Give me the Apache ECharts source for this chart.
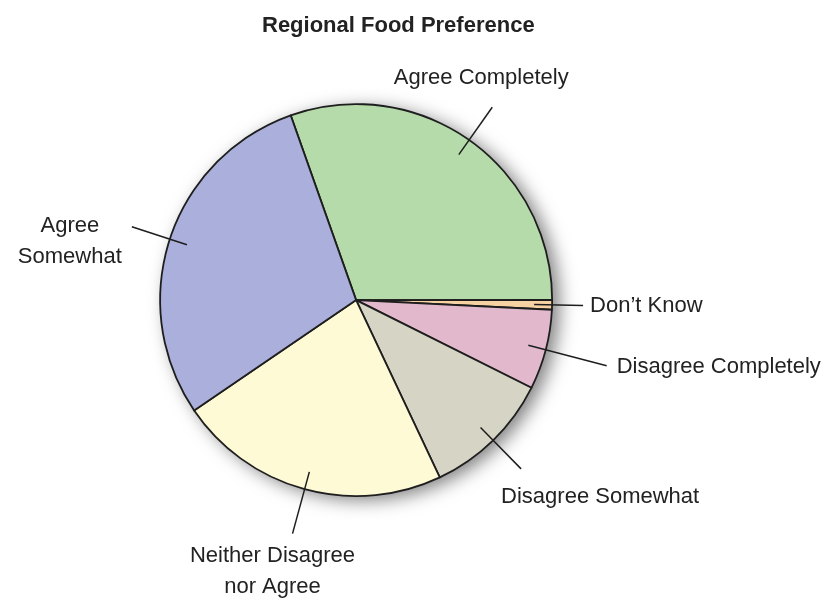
<!DOCTYPE html>
<html>
<head>
<meta charset="utf-8">
<script src="https://cdn.jsdelivr.net/npm/echarts@6/dist/echarts.min.js"></script>
<style>
html,body{margin:0;padding:0;background:#ffffff;}
#chart{width:836px;height:599px;}
</style>
</head>
<body>
<div id="chart"></div>
<script>
// ---- data ----
const chartTitle = 'Regional Food Preference';
const categories = ['Agree Completely', 'Don\u2019t Know', 'Disagree Completely', 'Disagree Somewhat', 'Neither Disagree\nnor Agree', 'Agree\nSomewhat'];
const values = [30.4, 0.8, 6.6, 10.6, 22.5, 29.1];

// ---- styles ----
const sliceColors = ['#b5dbaa', '#f7d3a3', '#e2b9cc', '#d6d4c4', '#fefad6', '#aab0db'];
const lineLengths = [58, 49, 81, 58, 64, 58];
const labelAdjust = [
  {align: 'center', verticalAlign: 'middle', dx: -11, dy: -29},
  {align: 'left',   verticalAlign: 'middle', dx: 7,   dy: 0},
  {align: 'left',   verticalAlign: 'middle', dx: 10,  dy: 1},
  {align: 'left',   verticalAlign: 'middle', dx: -20, dy: 28},
  {align: 'center', verticalAlign: 'middle', dx: -20, dy: 38},
  {align: 'center', verticalAlign: 'middle', dx: -62, dy: 15}
];

function fontAvailable(name) {
  const c = document.createElement('canvas').getContext('2d');
  const t = 'Disagree Completely Wmw';
  c.font = '40px monospace';
  const w1 = c.measureText(t).width;
  c.font = '40px "' + name + '", monospace';
  return Math.abs(c.measureText(t).width - w1) > 0.5;
}
const narrow = fontAvailable('Liberation Sans Narrow');
const labelFont = narrow ? '"Liberation Sans Narrow"' : '"Liberation Sans", Arial, sans-serif';
const labelSize = narrow ? 26 : 22;

const total = values.reduce((a, b) => a + b, 0);
const center = ['42.6%', '50.1%'];
const startAngle = 109.5;

const chart = echarts.init(document.getElementById('chart'), null, {renderer: 'canvas'});
chart.setOption({
  animation: false,
  backgroundColor: '#ffffff',
  title: {
    text: chartTitle,
    left: 257,
    top: 10,
    textStyle: {fontFamily: '"Liberation Sans", Arial, sans-serif', fontWeight: 'bold', fontSize: 22, color: '#222'}
  },
  series: [
    {
      name: 'shadow',
      type: 'pie',
      silent: true,
      z: 1,
      center: center,
      radius: 196,
      startAngle: startAngle,
      label: {show: false},
      labelLine: {show: false},
      itemStyle: {color: '#bbbbbb', shadowBlur: 18, shadowColor: 'rgba(0,0,0,0.5)', shadowOffsetX: 7, shadowOffsetY: 4},
      data: [{value: total, name: 'all'}]
    },
    {
      name: 'pie',
      type: 'pie',
      silent: true,
      z: 2,
      center: center,
      radius: 196,
      startAngle: startAngle,
      clockwise: true,
      avoidLabelOverlap: false,
      label: {show: false},
      labelLine: {show: false},
      itemStyle: {borderColor: '#1e1e1e', borderWidth: 1.8},
      data: categories.map((c, i) => ({name: c, value: values[i], itemStyle: {color: sliceColors[i]}}))
    },
    {
      name: 'labels',
      type: 'pie',
      silent: true,
      z: 3,
      center: center,
      radius: 178,
      startAngle: startAngle,
      clockwise: true,
      avoidLabelOverlap: false,
      itemStyle: {color: 'rgba(0,0,0,0)', borderWidth: 0},
      label: {
        show: true,
        position: 'outside',
        formatter: '{b}',
        fontFamily: labelFont,
        fontSize: labelSize,
        lineHeight: 31,
        color: '#222',
        overflow: 'none'
      },
      labelLine: {show: true, length2: 0, smooth: false, lineStyle: {color: '#1e1e1e', width: 1.5}},
      labelLayout: function (p) {
        const pts = p.labelLinePoints;
        const end = pts[pts.length - 1];
        const a = labelAdjust[p.dataIndex];
        return {x: end[0] + a.dx, y: end[1] + a.dy, align: a.align, verticalAlign: a.verticalAlign, labelLinePoints: pts};
      },
      data: categories.map((c, i) => ({name: c, value: values[i], labelLine: {length: lineLengths[i], length2: 0}}))
    }
  ]
});
</script>
</body>
</html>
